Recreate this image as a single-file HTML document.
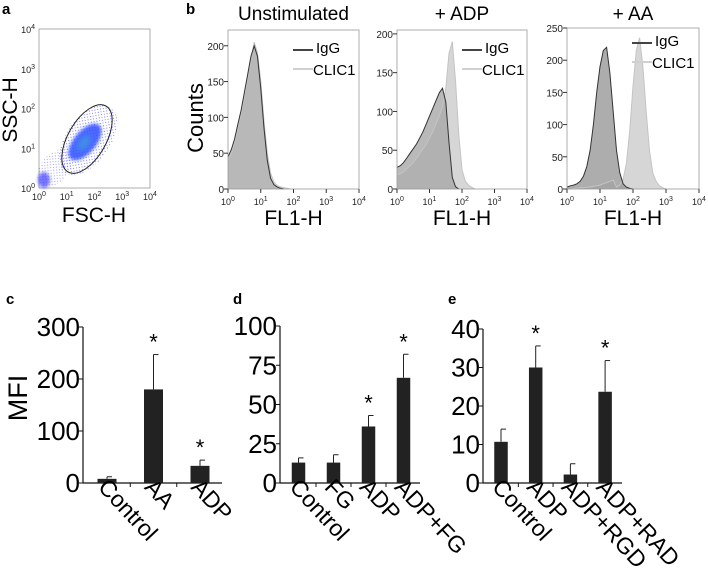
<!DOCTYPE html>
<html><head><meta charset="utf-8"><style>
html,body{margin:0;padding:0;background:#fff}
svg{display:block;font-family:"Liberation Sans",Arial,sans-serif}
</style></head><body>
<svg id="fig" width="708" height="586" viewBox="0 0 708 586">
<defs>
<filter id="blur2" x="-50%" y="-50%" width="200%" height="200%"><feGaussianBlur stdDeviation="3"/></filter>
<filter id="blur1" x="-50%" y="-50%" width="200%" height="200%"><feGaussianBlur stdDeviation="1.5"/></filter>
<pattern id="dots" width="4" height="4" patternUnits="userSpaceOnUse"><rect x="0" y="0" width="1" height="1" fill="#3a3aff"/><rect x="2" y="2" width="1" height="1" fill="#5a5aff"/></pattern>
</defs>
<g>
<text x="2" y="14" font-size="15" font-weight="bold">a</text>
<rect x="39" y="29" width="111" height="159" fill="none" stroke="#999" stroke-width="0.8"/>
<g>
<ellipse cx="88" cy="140" rx="40" ry="22" transform="rotate(-55 88 140)" fill="url(#dots)" opacity="0.7"/>
<ellipse cx="55" cy="168" rx="22" ry="14" transform="rotate(-50 55 168)" fill="url(#dots)" opacity="0.5"/>
<ellipse cx="44" cy="180" rx="6" ry="8" fill="#3a3aff" opacity="0.7" filter="url(#blur1)"/>
<ellipse cx="85" cy="142" rx="22" ry="11" transform="rotate(-50 85 142)" fill="#2f4dff" opacity="0.85" filter="url(#blur1)"/>
<ellipse cx="84" cy="143" rx="9" ry="5" transform="rotate(-50 84 143)" fill="#3f8fe8" filter="url(#blur2)"/>
</g>
<ellipse cx="87" cy="139" rx="38" ry="19" transform="rotate(-60 87 139)" fill="none" stroke="#222" stroke-width="1"/>
<g id="axA" font-size="9" fill="#222"></g>
<text x="94" y="222" font-size="21" text-anchor="middle">FSC-H</text>
<text transform="translate(17,110) rotate(-90)" font-size="21" text-anchor="middle">SSC-H</text>
</g>
<text x="186" y="14" font-size="15" font-weight="bold">b</text>
<text transform="translate(203,118) rotate(-90)" font-size="22" text-anchor="middle">Counts</text>
<g id="hist"></g>
<g id="bars"></g>
<text x="6" y="304" font-size="15" font-weight="bold">c</text>
<text x="233" y="304" font-size="15" font-weight="bold">d</text>
<text x="448" y="304" font-size="15" font-weight="bold">e</text>
<text transform="translate(27,398) rotate(-90)" font-size="27" text-anchor="middle">MFI</text>
</svg>
<script>
// histogram data: counts at log10(FL1) = 0,0.1,0.2,... (missing = 0)
const unstimIgG   = [45,55,70,90,110,135,160,185,200,185,140,85,40,15,6,3,1,0];
const unstimCLIC1 = [40,50,65,85,105,130,155,180,205,190,150,95,50,22,10,5,3,2,1,0];
const adpIgG      = [28,30,34,40,46,52,58,66,74,84,94,104,114,124,130,112,60,15,3,0];
const adpCLIC1    = [18,20,22,26,30,34,40,46,52,58,66,74,84,94,106,130,175,190,140,70,25,10,5,2,0];
const aaIgG       = [3,5,6,8,12,20,35,60,100,150,190,215,220,180,120,60,25,8,3,1,0];
const aaCLIC1     = [0,0,1,1,2,2,3,3,4,5,6,8,10,12,14,3,6,15,40,90,160,215,235,190,120,60,25,12,5,2,0];
const histTitles  = ["Unstimulated","+ ADP","+ AA"];
const histYTicks  = [[0,50,100,150,200],[0,50,100,150,200],[0,50,100,150,200,250]];
const histYMax    = [222,205,250];
// bar data
const cCats = ["Control","AA","ADP"], cVals=[8,180,33], cErr=[12,247,44], cSig=[false,true,true], cTicks=[0,100,200,300];
const dCats = ["Control","FG","ADP","ADP+FG"], dVals=[13,13,36,67], dErr=[16,18,43,82], dSig=[false,false,true,true], dTicks=[0,25,50,75,100];
const eCats = ["Control","ADP","ADP+RGD","ADP+RAD"], eVals=[10.7,30,2.2,23.7], eErr=[14,35.6,5,31.8], eSig=[false,true,false,true], eTicks=[0,10,20,30,40];

const NS="http://www.w3.org/2000/svg";
function mk(tag,attrs,parent){const e=document.createElementNS(NS,tag);for(const k in attrs)e.setAttribute(k,attrs[k]);parent.appendChild(e);return e;}
function pow10(parent,x,y,exp,anchor){const t=mk('text',{x:x,y:y,'font-size':9,'text-anchor':anchor||'middle',fill:'#222'},parent);t.textContent='10';const s=mk('tspan',{dy:-4,'font-size':7},t);s.textContent=exp;return t;}

(function(){
 const g=document.getElementById('axA');
 const x0=39,x1=150,y0=188,y1=29;
 for(let i=0;i<=4;i++){
  const x=x0+(x1-x0)*i/4, y=y0-(y0-y1)*i/4;
  const t1=pow10(g,x,200,i);  
  const t2=pow10(g,x0-4,y+4,i,'end');  
 }
})();

(function(){
 const root=document.getElementById('hist');
 const panels=[
  {x0:228,x1:359,y0:189,y1:30,igg:unstimIgG,clic:unstimCLIC1,iggFill:'#b0b0b0',leg:[293,50]},
  {x0:397,x1:527,y0:189,y1:30,igg:adpIgG,clic:adpCLIC1,iggFill:'#a8a8a8',leg:[462,50]},
  {x0:567,x1:699,y0:189,y1:28,igg:aaIgG,clic:aaCLIC1,iggFill:'#999',leg:[632,43]}];
 panels.forEach((p,k)=>{
  const g=mk('g',{},root);
  
  
  const ymax=histYMax[k];
  const sx=v=>p.x0+(p.x1-p.x0)*v/4;
  const sy=c=>p.y0-(p.y0-p.y1)*c/ymax;
  function path(arr,close){let d='';const n=Math.max(arr.length,1);
   for(let i=0;i<n;i++){d+=(i?'L':'M')+sx(i*0.1).toFixed(1)+','+sy(arr[i]||0).toFixed(1);}
   if(close)d+='L'+sx((n-1)*0.1).toFixed(1)+','+p.y0+'L'+sx(0)+','+p.y0+'Z';return d;}
  const cf=mk('path',{d:path(p.clic,true),fill:'#d6d6d6',stroke:'none'},g);
   
  const iff=mk('path',{d:path(p.igg,true),fill:p.iggFill,'fill-opacity':0.8,stroke:'none'},g);
   
  mk('path',{d:path(p.clic,false),fill:'none',stroke:'#c4c4c4','stroke-width':1},g);
  mk('path',{d:path(p.igg,false),fill:'none',stroke:'#333','stroke-width':1},g);
  mk('rect',{x:p.x0,y:p.y1,width:p.x1-p.x0,height:p.y0-p.y1,fill:'none',stroke:'#999','stroke-width':0.8},g);
  histYTicks[k].forEach(v=>{const y=sy(v);mk('line',{x1:p.x0-4,x2:p.x0,y1:y,y2:y,stroke:'#333'},g);
   const t=mk('text',{x:p.x0-4,y:y+4,'font-size':10,'text-anchor':'end',fill:'#222'},g);t.textContent=v;
   });
  for(let i=0;i<=4;i++){const x=sx(i);mk('line',{x1:x,x2:x,y1:p.y0,y2:p.y0+4,stroke:'#333'},g);
   const t=pow10(g,x,p.y0+16,i);}
  const xt=mk('text',{x:(p.x0+p.x1)/2,y:225,'font-size':21,'text-anchor':'middle'},g);xt.textContent='FL1-H';
  
  const tt=mk('text',{x:(p.x0+p.x1)/2,y:20,'font-size':19,'text-anchor':'middle'},g);tt.textContent=histTitles[k];
  
  const [lx,ly]=p.leg;
  mk('line',{x1:lx,x2:lx+20,y1:ly,y2:ly,stroke:'#444','stroke-width':2},g);
  const l1=mk('text',{x:lx+23,y:ly+3,'font-size':15},g);l1.textContent='IgG';
  
  mk('line',{x1:lx,x2:lx+20,y1:ly+19,y2:ly+19,stroke:'#d0d0d0','stroke-width':2},g);
  const l2=mk('text',{x:lx+20,y:ly+25,'font-size':15},g);l2.textContent='CLIC1';
  
 });
})();

(function(){
 const root=document.getElementById('bars');
 const specs=[
  {ax:83,axEnd:222,y0:483,yTop:327,max:300,cats:cCats,vals:cVals,err:cErr,sig:cSig,ticks:cTicks,first:107,step:46.5,bw:19},
  {ax:280,axEnd:420,y0:483,yTop:326,max:100,cats:dCats,vals:dVals,err:dErr,sig:dSig,ticks:dTicks,first:298.5,step:35,bw:13.5},
  {ax:483,axEnd:622,y0:483,yTop:329,max:40,cats:eCats,vals:eVals,err:eErr,sig:eSig,ticks:eTicks,first:501,step:34.7,bw:13.5}];
 specs.forEach((s,k)=>{
  const g=mk('g',{},root);
  
  
  const sy=v=>s.y0-(s.y0-s.yTop)*v/s.max;
  mk('line',{x1:s.ax,x2:s.ax,y1:s.yTop,y2:s.y0,stroke:'#111','stroke-width':1.2},g);
  mk('line',{x1:s.ax,x2:s.axEnd,y1:s.y0,y2:s.y0,stroke:'#111','stroke-width':1.2},g);
  s.ticks.forEach(v=>{const y=sy(v);mk('line',{x1:s.ax-4,x2:s.ax,y1:y,y2:y,stroke:'#111'},g);
   const t=mk('text',{x:s.ax-3,y:y+9,'font-size':26,'text-anchor':'end'},g);t.textContent=v;
   });
  s.cats.forEach((c,i)=>{
   const cx=s.first+s.step*i;
   if(i>0){const tx=cx-s.step/2;mk('line',{x1:tx,x2:tx,y1:s.y0,y2:s.y0+4,stroke:'#111'},g);}
   mk('line',{x1:cx,x2:cx,y1:sy(s.err[i]),y2:sy(s.vals[i]),stroke:'#222','stroke-width':1},g);
   mk('line',{x1:cx,x2:cx+5,y1:sy(s.err[i]),y2:sy(s.err[i]),stroke:'#222','stroke-width':1},g);
   const b=mk('rect',{x:cx-s.bw/2,y:sy(s.vals[i]),width:s.bw,height:s.y0-sy(s.vals[i]),fill:'#222'},g);
   
   
   if(s.sig[i]){const st=mk('text',{x:cx,y:sy(s.err[i])-5,'font-size':22,'text-anchor':'middle'},g);st.textContent='*';
    }
   const lt=mk('text',{transform:'translate('+(cx-10)+','+(s.y0+5)+') rotate(47)','font-size':23},g);lt.textContent=c;
   
  });
 });
})();
</script>
</body></html>
